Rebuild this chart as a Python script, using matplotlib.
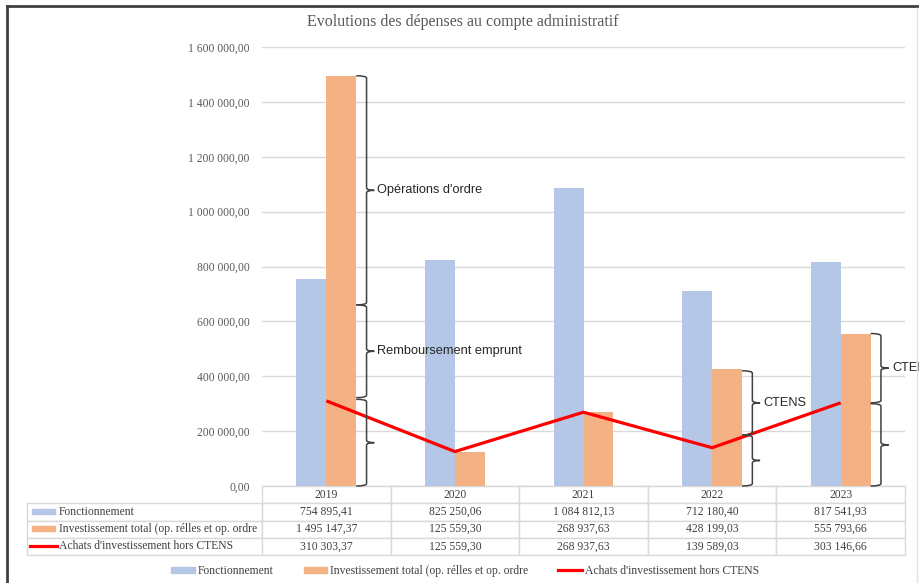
import matplotlib.pyplot as plt
from matplotlib.table import Table
from matplotlib.lines import Line2D
from matplotlib.patches import Patch, Rectangle, PathPatch
from matplotlib.path import Path

years = ["2019", "2020", "2021", "2022", "2023"]
fonctionnement = [754895.41, 825250.06, 1084812.13, 712180.40, 817541.93]
investissement = [1495147.37, 125559.30, 268937.63, 428199.03, 555793.66]
achats_hors_ctens = [310303.37, 125559.30, 268937.63, 139589.03, 303146.66]
series_names = ["Fonctionnement",
                "Investissement total (op. rélles et op. ordre",
                "Achats d'investissement hors CTENS"]
y_ticks = [0, 200000, 400000, 600000, 800000, 1000000, 1200000, 1400000, 1600000]

# accolades : (indice année, haut, bas, texte)
braces = [
    (0, 1495147.37, 660000, "Opérations d'ordre"),
    (0, 660000, 322000, "Remboursement emprunt"),
    (0, 316000, 0, ""),
    (3, 420000, 186000, "CTENS"),
    (3, 186000, 0, ""),
    (4, 555793.66, 303146.66, "CTENS"),
    (4, 300000, 0, ""),
]

BLUE = "#b4c7e7"
ORANGE = "#f4b183"
RED = "#ff0000"
GRID = "#d9d9d9"
TXT = "#404040"
SERIF = ["Liberation Serif", "DejaVu Serif"]
SANS = ["Liberation Sans", "DejaVu Sans"]

W, H = 919, 583


def fx(x):
    return x / W


def fy(y):
    return 1 - y / H


def fmt(v):
    return f"{v:,.2f}".replace(",", " ").replace(".", ",")


fig = plt.figure(figsize=(W / 100, H / 100), dpi=100)
fig.patch.set_facecolor("white")

ax_l, ax_r, ax_t, ax_b = 262, 905, 47, 486
ax = fig.add_axes([fx(ax_l), fy(ax_b), (ax_r - ax_l) / W, (ax_b - ax_t) / H])

x = list(range(len(years)))
w = 0.233
ax.bar([i - w / 2 for i in x], fonctionnement, w, color=BLUE, zorder=2)
ax.bar([i + w / 2 for i in x], investissement, w, color=ORANGE, zorder=2)
ax.plot(x, achats_hors_ctens, color=RED, lw=2.3, zorder=3, solid_capstyle="butt")

ax.set_xlim(-0.5, len(years) - 0.5)
ax.set_ylim(0, 1600000)
ax.set_yticks(y_ticks)
ax.set_yticklabels([fmt(v) for v in y_ticks], fontfamily=SERIF, fontsize=8.4, color="#595959")
ax.set_xticks([])
ax.tick_params(axis="y", length=0, pad=9)
ax.grid(axis="y", color=GRID, lw=1, zorder=0)
for s in ["top", "left", "right"]:
    ax.spines[s].set_visible(False)
ax.spines["bottom"].set_color(GRID)

# accolades
hook, tick = 0.08, 0.06
ry = 9000
for idx, top, bot, label in braces:
    x0 = idx + w
    x1 = x0 + hook
    x2 = x1 + tick
    mid = (top + bot) / 2
    verts = [(x0, top), (x1, top), (x1, top - ry),
             (x1, mid + ry), (x1, mid), (x2, mid),
             (x1, mid), (x1, mid - ry),
             (x1, bot + ry), (x1, bot), (x0, bot)]
    codes = [Path.MOVETO, Path.CURVE3, Path.CURVE3,
             Path.LINETO, Path.CURVE3, Path.CURVE3,
             Path.CURVE3, Path.CURVE3,
             Path.LINETO, Path.CURVE3, Path.CURVE3]
    ax.add_patch(PathPatch(Path(verts, codes), fill=False, edgecolor="#404040",
                           lw=1.1, zorder=4, clip_on=False))
    if label:
        ax.text(x2 + 0.025, mid, label, fontfamily=SANS, fontsize=9.2, color="#262626",
                va="center", ha="left", clip_on=False)

# tableau de données
tb_l, tb_t, tb_b = 27, 486, 555
aw, ah = ax_r - ax_l, ax_b - ax_t
tab = Table(ax, bbox=[(tb_l - ax_l) / aw, (ax_b - tb_b) / ah, (ax_r - tb_l) / aw, (tb_b - tb_t) / ah])
col_w = [ax_l - tb_l] + [(ax_r - ax_l) / len(years)] * len(years)
rows = [fonctionnement, investissement, achats_hors_ctens]
ch = 1.0
c = tab.add_cell(0, 0, col_w[0], ch, text="")
c.visible_edges = ""
for j, yr in enumerate(years):
    tab.add_cell(0, j + 1, col_w[j + 1], ch, text=yr, loc="center")
for i, (name, vals) in enumerate(zip(series_names, rows)):
    c = tab.add_cell(i + 1, 0, col_w[0], ch, text=name, loc="left")
    c.PAD = 32 / col_w[0]
    for j, v in enumerate(vals):
        tab.add_cell(i + 1, j + 1, col_w[j + 1], ch, text=fmt(v), loc="center")
tab.auto_set_font_size(False)
for (r, cc), cell in tab.get_celld().items():
    cell.set_edgecolor(GRID)
    cell.set_linewidth(1)
    cell.get_text().set_fontfamily(SERIF)
    cell.get_text().set_fontsize(8.4)
    cell.get_text().set_color(TXT)
ax.add_table(tab)

# clés de légende dans le tableau
row_c = [511.5, 528.5, 545.5]
fig.add_artist(Rectangle((fx(32), fy(row_c[0] + 2.5)), 23 / W, 5 / H, color=BLUE, transform=fig.transFigure))
fig.add_artist(Rectangle((fx(32), fy(row_c[1] + 2.5)), 23 / W, 5 / H, color=ORANGE, transform=fig.transFigure))
fig.add_artist(Line2D([fx(30), fx(57)], [fy(row_c[2]), fy(row_c[2])], color=RED, lw=2.3,
                      transform=fig.transFigure))

# légende
handles = [Patch(color=BLUE), Patch(color=ORANGE), Line2D([], [], color=RED, lw=2.3)]
fig.legend(handles, series_names, ncol=3, frameon=False, loc="center",
           bbox_to_anchor=(fx(465), fy(571)), prop={"family": SERIF, "size": 8.4},
           labelcolor=TXT, handlelength=2.0, handleheight=0.4, handletextpad=0.25,
           columnspacing=2.6)

# titre
fig.text(fx(463), fy(22), "Evolutions des dépenses au compte administratif",
         ha="center", va="center", fontfamily=SERIF, fontsize=11.5, color="#595959")

# cadre
fig.add_artist(Line2D([fx(7), fx(7)], [fy(6), 0], color="#404040", lw=2, transform=fig.transFigure))
fig.add_artist(Line2D([fx(7), 1], [fy(6), fy(6)], color="#404040", lw=2, transform=fig.transFigure))
fig.add_artist(Line2D([fx(917), fx(917)], [fy(8), 0], color="#e0e0e0", lw=1, transform=fig.transFigure))

fig.savefig("out.png", dpi=100)
